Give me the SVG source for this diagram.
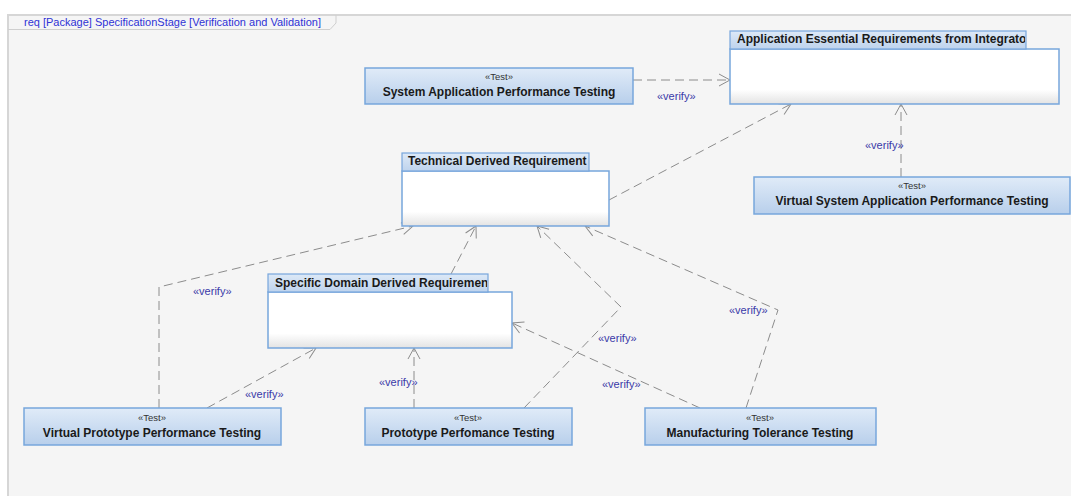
<svg xmlns="http://www.w3.org/2000/svg" width="1071" height="496" viewBox="0 0 1071 496">
<style>
.frame{fill:#f5f5f5;stroke:#d6d6d6;stroke-width:2}
.title{font-family:"Liberation Sans",Arial,sans-serif;font-size:11px;fill:#2f33d6}
.test{fill:url(#gTest);stroke:#77a6dc;stroke-width:1.5}
.body{fill:url(#gBody);stroke:#77a6dc;stroke-width:1.5}
.head{fill:url(#gHead);stroke:#77a6dc;stroke-width:1.2}
.st{font-family:"Liberation Sans",Arial,sans-serif;font-size:9.5px;fill:#333;text-anchor:middle}
.nm{font-family:"Liberation Sans",Arial,sans-serif;font-size:12px;font-weight:bold;fill:#1a1a1a;text-anchor:middle}
.hd{font-family:"Liberation Sans",Arial,sans-serif;font-size:12px;font-weight:bold;fill:#1a1a1a}
.dep{fill:none;stroke:#8c8c8c;stroke-width:1;stroke-dasharray:9,5;marker-end:url(#arr)}
.lbl{font-family:"Liberation Sans",Arial,sans-serif;font-size:11px;fill:#3a3aa8}
</style>
<defs>
<linearGradient id="gTest" x1="0" y1="0" x2="0" y2="1"><stop offset="0" stop-color="#e0ebf8"/><stop offset="1" stop-color="#b8cfeb"/></linearGradient>
<linearGradient id="gHead" x1="0" y1="0" x2="0" y2="1"><stop offset="0" stop-color="#dde9f7"/><stop offset="1" stop-color="#bed3ed"/></linearGradient>
<linearGradient id="gBody" x1="0" y1="0" x2="0" y2="1"><stop offset="0" stop-color="#ffffff"/><stop offset="0.74" stop-color="#ffffff"/><stop offset="1" stop-color="#e3e3e3"/></linearGradient>
<marker id="arr" markerUnits="userSpaceOnUse" markerWidth="14" markerHeight="14" refX="11" refY="6" orient="auto" overflow="visible">
<path d="M0,0 L11,6 L0,12" fill="none" stroke="#8c8c8c" stroke-width="1" stroke-dasharray="none"/>
</marker>
<clipPath id="cAER"><rect x="730" y="31" width="295" height="18"/></clipPath>
<clipPath id="cTDR"><rect x="402" y="153" width="186" height="18"/></clipPath>
<clipPath id="cSDDR"><rect x="268" y="274" width="219" height="18"/></clipPath>
</defs>
<rect x="0" y="0" width="1071" height="496" fill="#ffffff"/>
<rect class="frame" x="8" y="15" width="1080" height="500"/>
<path d="M8,29.5 L330,29.5 L336,23 L336,15" fill="none" stroke="#cfcfcf" stroke-width="1"/>
<text class="title" x="24" y="25.5">req [Package] SpecificationStage [Verification and Validation]</text>

<g id="connectors">
<path class="dep" d="M633,80 L730,80"/>
<path class="dep" d="M609,200 L791,104"/>
<path class="dep" d="M901,177 L901,104"/>
<path class="dep" d="M159,408 L159,287 L413,226"/>
<path class="dep" d="M207,408 L316,348"/>
<path class="dep" d="M451,274 L476,226"/>
<path class="dep" d="M414,408 L414,348"/>
<path class="dep" d="M524,408 L621,307 L537,226"/>
<path class="dep" d="M700,408 L512,323"/>
<path class="dep" d="M746,408 L778,310 L585,226"/>
<text class="lbl" x="657" y="100">«verify»</text>
<text class="lbl" x="865" y="149">«verify»</text>
<text class="lbl" x="193" y="295">«verify»</text>
<text class="lbl" x="245" y="398">«verify»</text>
<text class="lbl" x="379" y="386">«verify»</text>
<text class="lbl" x="598" y="342">«verify»</text>
<text class="lbl" x="602" y="388">«verify»</text>
<text class="lbl" x="729" y="314">«verify»</text>
</g>

<g id="sapt">
<rect class="test" x="365" y="68" width="268" height="36"/>
<text class="st" x="499" y="80">«Test»</text>
<text class="nm" x="499" y="95.5">System Application Performance Testing</text>
</g>

<g id="aer">
<rect class="body" x="730" y="49" width="329" height="55"/>
<rect class="head" x="730" y="31" width="296" height="18"/>
<text class="hd" x="737" y="43" clip-path="url(#cAER)">Application Essential Requirements from Integrator</text>
</g>

<g id="tdr">
<rect class="body" x="402" y="171" width="207" height="55"/>
<rect class="head" x="402" y="153" width="187" height="18"/>
<text class="hd" x="408" y="165" clip-path="url(#cTDR)">Technical Derived Requirement</text>
</g>

<g id="vsapt">
<rect class="test" x="754" y="177" width="316" height="37"/>
<text class="st" x="912" y="189">«Test»</text>
<text class="nm" x="912" y="205">Virtual System Application Performance Testing</text>
</g>

<g id="sddr">
<rect class="body" x="268" y="292" width="244" height="56"/>
<rect class="head" x="268" y="274" width="220" height="18"/>
<text class="hd" x="275" y="286.5" clip-path="url(#cSDDR)">Specific Domain Derived Requirement</text>
</g>

<g id="vppt">
<rect class="test" x="24" y="408" width="257" height="37"/>
<text class="st" x="152" y="421">«Test»</text>
<text class="nm" x="152" y="436.5">Virtual Prototype Performance Testing</text>
</g>

<g id="ppt">
<rect class="test" x="365" y="408" width="207" height="37"/>
<text class="st" x="468" y="421">«Test»</text>
<text class="nm" x="468" y="436.5">Prototype Perfomance Testing</text>
</g>

<g id="mtt">
<rect class="test" x="645" y="408" width="231" height="37"/>
<text class="st" x="760" y="421">«Test»</text>
<text class="nm" x="760" y="436.5">Manufacturing Tolerance Testing</text>
</g>
</svg>
